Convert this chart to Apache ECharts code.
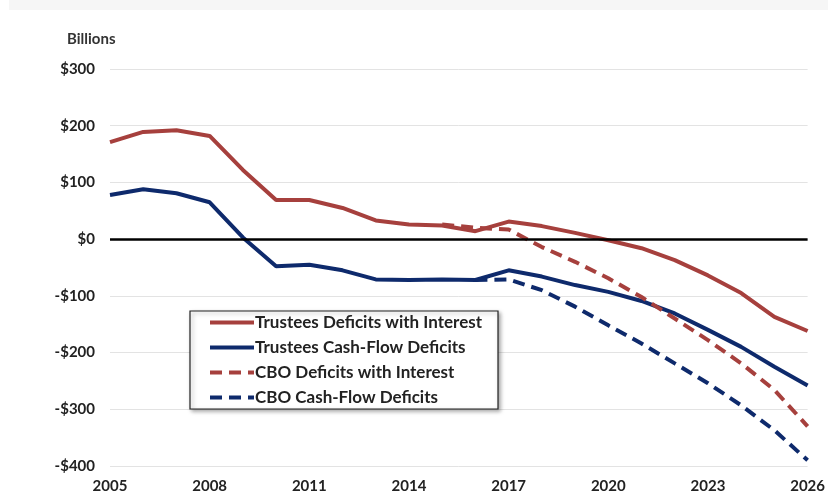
<!DOCTYPE html>
<html>
<head>
<meta charset="utf-8">
<script src="https://cdn.jsdelivr.net/npm/echarts@6/dist/echarts.min.js"></script>
<style>html,body{margin:0;padding:0;background:#fff;}#c{width:828px;height:495px;}</style>
</head>
<body>
<div id="c"></div>
<script>
const years = ['2005','2006','2007','2008','2009','2010','2011','2012','2013','2014','2015','2016','2017','2018','2019','2020','2021','2022','2023','2024','2025','2026'];
const trusteesInterest = [171,189,192,182,122,69,69,55,33,26,24,14,31,23,11,-2,-16,-37,-64,-95,-137,-162];
const trusteesCashFlow = [78,88,81,65,3,-48,-45,-55,-71,-72,-71,-72,-55,-66,-81,-93,-109,-131,-160,-190,-225,-258];
const cboInterest = [null,null,null,null,null,null,null,null,null,null,26,20,17,-14,-40,-69,-102,-140,-178,-219,-266,-330];
const cboCashFlow = [null,null,null,null,null,null,null,null,null,null,null,-72,-71,-90,-119,-152,-184,-219,-254,-293,-337,-390];
const yTicks = {min:-400, max:300, step:100};

const RED = '#A6403D', BLUE = '#0E2A6C';
const FONT = 'Lato, "Open Sans", sans-serif';
const chart = echarts.init(document.getElementById('c'));
const mk = (name, data, color, type) => ({
  name, type:'line', data, symbol:'none', showSymbol:false, smooth:false, connectNulls:false,
  lineStyle:{color, width:4, type: type==='dashed' ? [12,7] : 'solid'},
  itemStyle:{color}
});
const s0 = mk('Trustees Deficits with Interest', trusteesInterest, RED, 'solid');
s0.markLine = {silent:true, symbol:'none', label:{show:false},
  lineStyle:{color:'#000', width:2.5, type:'solid'}, data:[{yAxis:0}]};
chart.setOption({
  animation:false,
  graphic:[{type:'rect', shape:{x:9,y:0,width:819,height:10}, style:{fill:'#f6f6f6'}, silent:true}],
  title:{text:'Billions', left:62, top:27, textStyle:{fontFamily:FONT, fontWeight:'bold', fontSize:15, color:'#333'}},
  grid:{left:110, right:15, top:69, bottom:29, containLabel:false},
  legend:{
    orient:'vertical', left:190, top:311,
    padding:[3,16,3,18], itemGap:8, itemWidth:44, itemHeight:14,
    backgroundColor:'#fff', borderColor:'#222', borderWidth:1.2,
    shadowBlur:4, shadowColor:'rgba(0,0,0,0.35)', shadowOffsetX:2, shadowOffsetY:2,
    itemStyle:{opacity:0},
    lineStyle:{width:4},
    textStyle:{fontFamily:FONT, fontWeight:'bold', fontSize:17, color:'#222', padding:[0,0,0,-4]},
    data:['Trustees Deficits with Interest','Trustees Cash-Flow Deficits','CBO Deficits with Interest','CBO Cash-Flow Deficits']
  },
  xAxis:{type:'category', data:years, boundaryGap:false,
    axisLine:{show:false}, axisTick:{show:false},
    axisLabel:{interval:2, fontFamily:FONT, fontWeight:'bold', fontSize:15, color:'#222', margin:13},
    splitLine:{show:false}},
  yAxis:{type:'value', min:yTicks.min, max:yTicks.max, interval:yTicks.step,
    axisLine:{show:false}, axisTick:{show:false},
    axisLabel:{fontFamily:FONT, fontWeight:'bold', fontSize:15, color:'#222', margin:15,
      formatter:v => v<0 ? '-$'+Math.abs(v) : '$'+v},
    splitLine:{lineStyle:{color:'#e3e3e3', width:1}}},
  series:[
    s0,
    mk('Trustees Cash-Flow Deficits', trusteesCashFlow, BLUE, 'solid'),
    mk('CBO Deficits with Interest', cboInterest, RED, 'dashed'),
    mk('CBO Cash-Flow Deficits', cboCashFlow, BLUE, 'dashed')
  ]
});
</script>
</body>
</html>
